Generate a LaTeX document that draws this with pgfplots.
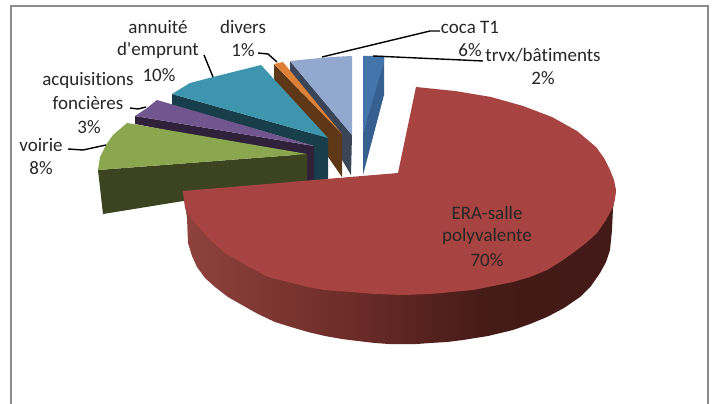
\documentclass[border=0pt]{standalone}
\usepackage{fontspec}
\setmainfont{Carlito}[Ligatures={NoCommon,TeXOff}]
\usepackage{pgfplots}
\pgfplotsset{compat=1.18}
\definecolor{frameg}{HTML}{8C8C8C}
\definecolor{txt}{HTML}{262626}
\definecolor{redtop}{HTML}{A74341}
\definecolor{bluetop}{HTML}{4375AB}
\definecolor{bluedk}{HTML}{36608F}
\definecolor{ltop}{HTML}{92A8CF}
\definecolor{ldk}{HTML}{3B4558}
\definecolor{otop}{HTML}{DE8136}
\definecolor{odk}{HTML}{5E3717}
\definecolor{ttop}{HTML}{3E95AE}
\definecolor{tdk}{HTML}{173E4A}
\definecolor{ptop}{HTML}{70558F}
\definecolor{pdk}{HTML}{2E2139}
\definecolor{gtop}{HTML}{8AA64E}
\definecolor{gdk}{HTML}{3B431F}
\pgfdeclarehorizontalshading{redside}{100bp}{
  rgb(0bp)=(0.56,0.26,0.24);
  rgb(25bp)=(0.56,0.26,0.24);
  rgb(45bp)=(0.42,0.17,0.155);
  rgb(60bp)=(0.27,0.105,0.09);
  rgb(75bp)=(0.26,0.10,0.09);
  rgb(100bp)=(0.26,0.10,0.09)}
\tikzset{
  lab/.style={font=\fontsize{19}{22}\selectfont, text=txt, inner sep=0pt, anchor=center},
  lead/.style={draw=black, line width=1.4pt, fill=none, line join=round}
}
\begin{document}
\begin{tikzpicture}
\begin{axis}[
  scale only axis, width=715pt, height=404pt,
  xmin=0, xmax=715, ymin=0, ymax=404, y dir=reverse,
  hide axis, clip=true
]
% background
\addplot[draw=none, fill=white] coordinates {(0,0) (715,0) (715,404) (0,404)} --cycle;
% frame
\addplot[draw=frameg, line width=2pt, fill=none] coordinates {(11,406) (11,6) (708,6) (708,406)};
% trvx/batiments
\addplot[draw=none, fill=bluedk] coordinates {(384,56) (384,95) (363,175) (363,133)} --cycle;
\addplot[draw=none, fill=bluetop] coordinates {(363,56) (384,56) (384,62) (363,133)} --cycle;
% coca T1
\addplot[draw=none, fill=ldk] coordinates {(290,61) (290,72) (351,175) (352,135)} --cycle;
\addplot[draw=none, fill=ltop] coordinates {(290,61) (310,59) (332,57) (352,56) (352,135)} --cycle;
% divers
\addplot[draw=none, fill=odk] coordinates {(274,64) (274,79) (342,177) (342,134)} --cycle;
\addplot[draw=none, fill=otop] coordinates {(274,64) (283,62) (342,134)} --cycle;
% annuite
\addplot[draw=none, fill=tdk] coordinates {(172,94) (172,105) (314,146) (314,182) (328,182) (328,138)} --cycle;
\addplot[draw=none, fill=ttop] coordinates {(172,94) (190,83) (213,77) (237,71) (261,65) (328,138)} --cycle;
% acquisitions
\addplot[draw=none, fill=pdk] coordinates {(135,116) (135,124) (307,158) (307,182) (314,182) (314,146)} --cycle;
\addplot[draw=none, fill=ptop] coordinates {(135,116) (147,108) (157,100) (314,146)} --cycle;
% voirie
\addplot[draw=none, fill=gdk] coordinates {(98,170) (103,214) (307,181) (307,154)} --cycle;
\addplot[draw=none, fill=gtop] coordinates {(127,123) (113,135) (106,145) (100,157) (98,170) (307,154)} --cycle;
% ERA side
\addplot[draw=none, shading=redside] coordinates {(183,191) (187,218) (188,243) (192,256) (197,267) (205,278) (215,287) (228,297) (242,305) (258,314) (275,322) (291,327) (308,332) (325,336) (342,339) (358,341) (375,343) (389,344) (403,344) (417,344) (430,343) (447,342) (463,340) (488,336) (513,330) (530,324) (547,317) (564,308) (580,297) (591,286) (600,273) (606,262) (610,250) (612,230) (613,208) (616,190)} --cycle;
% ERA top
\addplot[draw=none, fill=redtop] coordinates {(398,173) (416,87) (455,91) (491,97) (523,106) (552,117) (577,131) (596,147) (604,158) (610,170) (614,180) (616,190) (615,199) (613,207) (606,220) (597,233) (586,243) (573,253) (560,262) (547,270) (530,277) (513,282) (493,286) (473,290) (452,292) (430,294) (403,295) (375,294) (350,292) (325,290) (308,287) (292,283) (280,280) (268,277) (255,270) (242,263) (225,253) (208,238) (195,223) (188,214) (185,208) (183,191)} --cycle;
% leaders
\addplot[lead] coordinates {(204,55) (213,77)};
\addplot[lead] coordinates {(258,53) (268,54) (277,62)};
\addplot[lead] coordinates {(130,108) (138,109) (146,107)};
\addplot[lead] coordinates {(68,149) (83,150) (106,145)};
\addplot[lead] coordinates {(440,31) (430,31) (322,57)};
\addplot[lead] coordinates {(483,61) (462,60) (373,56)};
% labels
\node[lab] at (axis cs:158,27) {annuité};
\node[lab] at (axis cs:158,50) {d'emprunt};
\node[lab] at (axis cs:159,75) {10\%};
\node[lab] at (axis cs:243,27) {divers};
\node[lab] at (axis cs:243,50) {1\%};
\node[lab] at (axis cs:88,80) {acquisitions};
\node[lab] at (axis cs:88,103) {foncières};
\node[lab] at (axis cs:89,127) {3\%};
\node[lab] at (axis cs:41,145) {voirie};
\node[lab] at (axis cs:41,168) {8\%};
\node[lab] at (axis cs:470,27) {coca T1};
\node[lab] at (axis cs:470,50) {6\%};
\node[lab] at (axis cs:543,55) {trvx/bâtiments};
\node[lab] at (axis cs:543,78) {2\%};
\node[lab] at (axis cs:487,213) {ERA-salle};
\node[lab] at (axis cs:487,236) {polyvalente};
\node[lab] at (axis cs:487,260) {70\%};
\end{axis}
\end{tikzpicture}
\end{document}
